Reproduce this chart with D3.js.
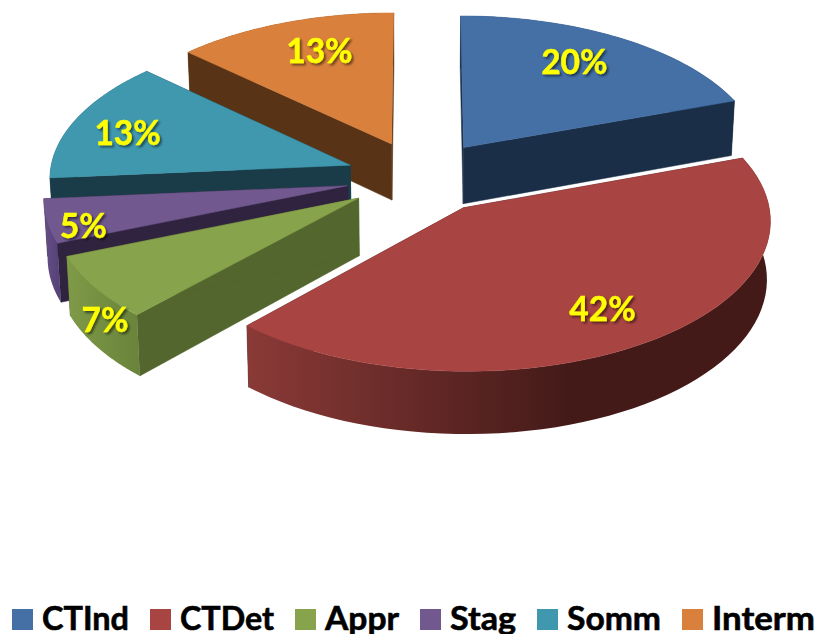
<!DOCTYPE html>
<html>
<head>
<meta charset="utf-8">
<title>Pie</title>
<script src="https://cdn.jsdelivr.net/npm/d3@7"></script>
<style>
  html, body { margin: 0; padding: 0; background: #fff; overflow: hidden; }
  svg { display: block; }
  text { font-family: Lato, sans-serif; font-weight: 700; }
</style>
</head>
<body>
<div id="mainDiv"></div>
<script>
// Values
const categories = ["CTInd", "CTDet", "Appr", "Stag", "Somm", "Interm"];
const shares = [19.5, 42.3, 7, 4.8, 13.4, 13];

// Colours per slice
const topColors = ["#4470a6", "#a84442", "#87a34c", "#71588f", "#4098af", "#d9813c"];
const sideColors = ["#1a2e47", "#431a18", "#53662d", "#30233f", "#193c48", "#593315"];
const wallColors = [
  ["#1a2e47", "#1a2e47"],
  ["#8a3a37", "#431a18"],
  ["#7f9a47", "#6a843b"],
  ["#674f86", "#57437a"],
  ["#193c48", "#193c48"],
  ["#593315", "#593315"]
];
const labelNudges = [[-5, -6], [9, 6], [-66, 58], [-49, 15], [-24, 1], [7, -4]];
const legendTextWidths = [87, 94, 74, 66, 94, 103];

const width = 819;
const height = 634;
const pieCenter = { x: 421, y: 177 };
const radiusX = 301;
const radiusY = 146;
const perspective = 0.0763;
const explode = 0.25;
const depth = 57;
const dropShrink = 0.99;
const labelRadius = 0.72;

// ground plane (gx to the right, gy away from the viewer) to screen
function project(gx, gy, drop) {
  let s = 1 / (1 + perspective * gy);
  let k = drop ? dropShrink : 1;
  return [
    pieCenter.x + radiusX * gx * s * k,
    pieCenter.y - radiusY * gy * s + (drop ? depth * s : 0)
  ];
}

const pieData = d3.pie().sort(null).value(d => d)(shares);

const svg = d3.select("#mainDiv")
  .append("svg")
  .attr("width", width)
  .attr("height", height);

const defs = svg.append("defs");
defs.append("filter")
  .attr("id", "textShadow")
  .attr("x", "-20%").attr("y", "-20%")
  .attr("width", "140%").attr("height", "140%")
  .append("feDropShadow")
  .attr("dx", 2).attr("dy", 2)
  .attr("stdDeviation", 1.3)
  .attr("flood-color", "#000")
  .attr("flood-opacity", 0.5);

const line = d3.line();

function slicePoints(d) {
  let mid = (d.startAngle + d.endAngle) / 2;
  let ox = explode * Math.sin(mid);
  let oy = explode * Math.cos(mid);
  let steps = d3.range(0, 61).map(i => d.startAngle + (d.endAngle - d.startAngle) * i / 60);
  return {
    ox, oy, mid,
    arc: drop => steps.map(a => project(ox + Math.sin(a), oy + Math.cos(a), drop)),
    apex: drop => project(ox, oy, drop)
  };
}

// painter's order: back slices first, the big front slice last
const drawOrder = [5, 4, 3, 2, 0, 1];

drawOrder.forEach(i => {
  let s = slicePoints(pieData[i]);
  let g = svg.append("g").attr("class", "slice-" + categories[i]);
  let topArc = s.arc(false);
  let lowArc = s.arc(true);

  [0, topArc.length - 1].forEach(end => {
    g.append("path")
      .attr("d", line([s.apex(false), topArc[end], lowArc[end], s.apex(true)]) + "Z")
      .attr("fill", sideColors[i])
      .attr("stroke", sideColors[i])
      .attr("stroke-width", 0.5);
  });

  let xs = d3.extent(topArc, p => p[0]);
  let grad = defs.append("linearGradient")
    .attr("id", "wall" + i)
    .attr("gradientUnits", "userSpaceOnUse")
    .attr("x1", xs[1]).attr("x2", xs[0])
    .attr("y1", 0).attr("y2", 0);
  if (i == 1) {
    // big slice stays dark along its right part, then brightens to the left
    grad.attr("x1", xs[0] + (xs[1] - xs[0]) * 0.62).attr("x2", xs[0]);
  }
  grad.selectAll("stop")
    .data([wallColors[i][1], wallColors[i][0]])
    .join("stop")
    .attr("offset", (c, k) => k)
    .attr("stop-color", c => c);

  g.append("path")
    .attr("d", line(topArc.concat(lowArc.slice().reverse())) + "Z")
    .attr("fill", "url(#wall" + i + ")");

  g.append("path")
    .attr("d", line([s.apex(false)].concat(topArc)) + "Z")
    .attr("fill", topColors[i])
    .attr("stroke", topColors[i])
    .attr("stroke-width", 0.5);
});

// percentage labels
svg.append("g")
  .selectAll("text")
  .data(pieData)
  .join("text")
  .attr("transform", (d, i) => {
    let s = slicePoints(d);
    let p = project(s.ox + labelRadius * Math.sin(s.mid), s.oy + labelRadius * Math.cos(s.mid), false);
    return `translate(${p[0] + labelNudges[i][0]},${p[1] + labelNudges[i][1]})`;
  })
  .attr("text-anchor", "middle")
  .attr("dy", "0.36em")
  .attr("font-size", 33.5)
  .attr("fill", "#ffff00")
  .attr("stroke", "#ffff00")
  .attr("stroke-width", 0.4)
  .attr("filter", "url(#textShadow)")
  .text(d => Math.round(d.value) + "%");

// legend
const legendY = 609;
const swatchSize = 21;
const legend = svg.append("g");
let legendX = 12;
categories.forEach((name, i) => {
  legend.append("rect")
    .attr("x", legendX)
    .attr("y", legendY)
    .attr("width", swatchSize)
    .attr("height", swatchSize)
    .attr("fill", topColors[i]);
  legend.append("text")
    .attr("x", legendX + swatchSize + 9)
    .attr("y", 630)
    .attr("font-size", 32.5)
    .attr("fill", "#000")
    .attr("stroke", "#000")
    .attr("stroke-width", 0.6)
    .attr("textLength", legendTextWidths[i])
    .attr("lengthAdjust", "spacingAndGlyphs")
    .text(name);
  legendX += swatchSize + 9 + legendTextWidths[i] + 21;
});
</script>
</body>
</html>
